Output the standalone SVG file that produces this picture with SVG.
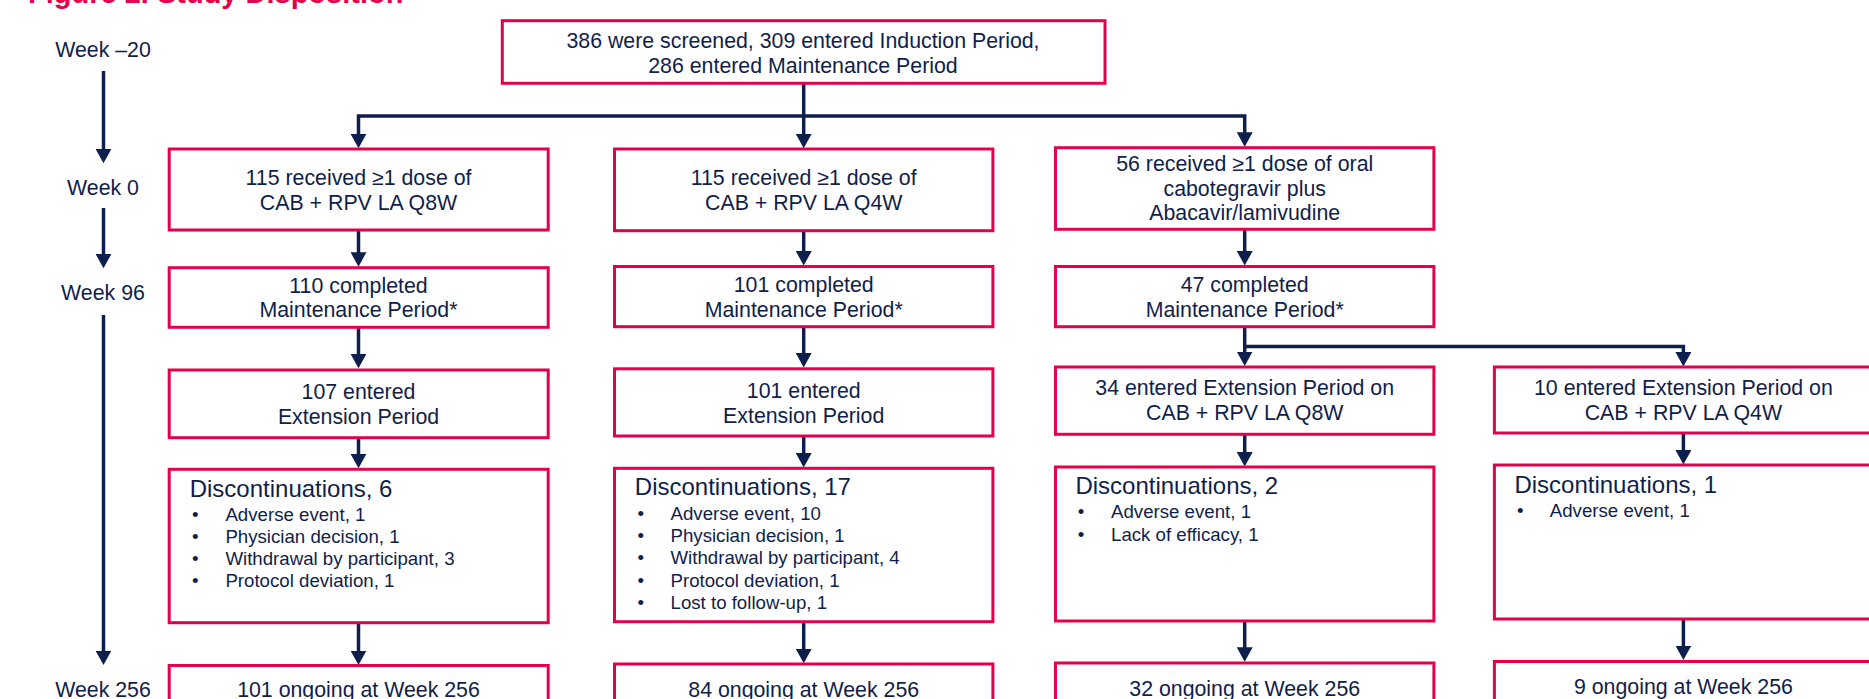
<svg xmlns="http://www.w3.org/2000/svg" width="1869" height="699" viewBox="0 0 1869 699">
<defs>
<style>
.box{fill:#fff;stroke:#E4004B;stroke-width:3}
.t{font-family:"Liberation Sans",Arial,sans-serif;font-size:21.33px;fill:#101E4A;text-anchor:middle}
.h{font-family:"Liberation Sans",Arial,sans-serif;font-size:24px;fill:#101E4A}
.b{font-family:"Liberation Sans",Arial,sans-serif;font-size:18.67px;fill:#101E4A}
.c{fill:none;stroke:#0D1F4D;stroke-width:3.5;marker-end:url(#ah)}
.title{font-family:"Liberation Sans",Arial,sans-serif;font-size:29px;font-weight:bold;fill:#E4004B}
</style>
<marker id="ah" markerUnits="userSpaceOnUse" markerWidth="15" markerHeight="16" refX="8.5" refY="8" orient="auto">
<path d="M0,0 L14.5,8 L0,16 z" fill="#0D1F4D"/>
</marker>
</defs>
<rect width="1869" height="699" fill="#fff"/>
<text class="title" x="28" y="3">Figure 2. Study Disposition</text>

<g id="timeline">
<text class="t" x="103" y="57.3">Week –20</text>
<text class="t" x="103" y="195">Week 0</text>
<text class="t" x="103" y="300">Week 96</text>
<text class="t" x="103" y="697">Week 256</text>
</g>

<g id="connectors">
<path class="c" d="M103.5,71 V157.3"/>
<path class="c" d="M103.5,208 V262.3"/>
<path class="c" d="M103.5,315 V659"/>
<path class="c" d="M803.7,83 V142.3"/>
<path class="c" d="M803.7,116 H358.5 V142.3"/>
<path class="c" d="M803.7,116 H1244.7 V140.7"/>
<path class="c" d="M358.5,230 V260.7"/>
<path class="c" d="M358.5,327.3 V362.3"/>
<path class="c" d="M358.5,437.7 V462.3"/>
<path class="c" d="M358.5,622.7 V659"/>
<path class="c" d="M803.7,230.7 V259.5"/>
<path class="c" d="M803.7,326.7 V361.5"/>
<path class="c" d="M803.7,436 V461.5"/>
<path class="c" d="M803.7,621.7 V657.3"/>
<path class="c" d="M1244.7,229.3 V259.5"/>
<path class="c" d="M1244.7,326.7 V360"/>
<path class="c" d="M1244.7,346.5 H1683.4 V360.5"/>
<path class="c" d="M1244.7,434.3 V460.5"/>
<path class="c" d="M1244.7,621 V655.7"/>
<path class="c" d="M1683.4,433 V458.5"/>
<path class="c" d="M1683.4,619 V654"/>
</g>

<g id="n-screened">
<rect class="box" x="502.3" y="20.7" width="602.7" height="62.6"/>
<text class="t" x="803" y="48.3">386 were screened, 309 entered Induction Period,</text>
<text class="t" x="803" y="72.7">286 entered Maintenance Period</text>
</g>

<g id="n-q8w-dose">
<rect class="box" x="169.2" y="149" width="379" height="81"/>
<text class="t" x="358.5" y="185">115 received ≥1 dose of</text>
<text class="t" x="358.5" y="209.5">CAB + RPV LA Q8W</text>
</g>
<g id="n-q4w-dose">
<rect class="box" x="614.5" y="149" width="378.4" height="81.7"/>
<text class="t" x="803.7" y="185">115 received ≥1 dose of</text>
<text class="t" x="803.7" y="209.5">CAB + RPV LA Q4W</text>
</g>
<g id="n-oral-dose">
<rect class="box" x="1055.5" y="147.7" width="378.4" height="81.6"/>
<text class="t" x="1244.7" y="171">56 received ≥1 dose of oral</text>
<text class="t" x="1244.7" y="195.5">cabotegravir plus</text>
<text class="t" x="1244.7" y="220">Abacavir/lamivudine</text>
</g>

<g id="n-q8w-completed">
<rect class="box" x="169.2" y="267.7" width="379" height="59.6"/>
<text class="t" x="358.5" y="292.5">110 completed</text>
<text class="t" x="358.5" y="317">Maintenance Period*</text>
</g>
<g id="n-q4w-completed">
<rect class="box" x="614.5" y="266.5" width="378.4" height="60.2"/>
<text class="t" x="803.7" y="291.5">101 completed</text>
<text class="t" x="803.7" y="316.5">Maintenance Period*</text>
</g>
<g id="n-oral-completed">
<rect class="box" x="1055.5" y="266.5" width="378.4" height="60.2"/>
<text class="t" x="1244.7" y="291.5">47 completed</text>
<text class="t" x="1244.7" y="316.5">Maintenance Period*</text>
</g>

<g id="n-q8w-ext">
<rect class="box" x="169.2" y="370" width="379" height="67.7"/>
<text class="t" x="358.5" y="399">107 entered</text>
<text class="t" x="358.5" y="424">Extension Period</text>
</g>
<g id="n-q4w-ext">
<rect class="box" x="614.5" y="368.8" width="378.4" height="67.2"/>
<text class="t" x="803.7" y="398.3">101 entered</text>
<text class="t" x="803.7" y="422.7">Extension Period</text>
</g>
<g id="n-oral-ext-q8w">
<rect class="box" x="1055.5" y="367" width="378.4" height="67.3"/>
<text class="t" x="1244.7" y="395">34 entered Extension Period on</text>
<text class="t" x="1244.7" y="420">CAB + RPV LA Q8W</text>
</g>
<g id="n-oral-ext-q4w">
<rect class="box" x="1494.4" y="367" width="379" height="66"/>
<text class="t" x="1683.4" y="395">10 entered Extension Period on</text>
<text class="t" x="1683.4" y="420">CAB + RPV LA Q4W</text>
</g>

<g id="n-q8w-disc">
<rect class="box" x="169.2" y="469.3" width="379" height="153.4"/>
<text class="h" x="189.7" y="496.7">Discontinuations, 6</text>
<text class="b" x="192" y="521">•</text><text class="b" x="225.4" y="521">Adverse event, 1</text>
<text class="b" x="192" y="543">•</text><text class="b" x="225.4" y="543">Physician decision, 1</text>
<text class="b" x="192" y="565">•</text><text class="b" x="225.4" y="565">Withdrawal by participant, 3</text>
<text class="b" x="192" y="587.3">•</text><text class="b" x="225.4" y="587.3">Protocol deviation, 1</text>
</g>
<g id="n-q4w-disc">
<rect class="box" x="614.5" y="468.3" width="378.4" height="153.4"/>
<text class="h" x="634.8" y="495">Discontinuations, 17</text>
<text class="b" x="637.5" y="520">•</text><text class="b" x="670.5" y="520">Adverse event, 10</text>
<text class="b" x="637.5" y="542">•</text><text class="b" x="670.5" y="542">Physician decision, 1</text>
<text class="b" x="637.5" y="564">•</text><text class="b" x="670.5" y="564">Withdrawal by participant, 4</text>
<text class="b" x="637.5" y="586.5">•</text><text class="b" x="670.5" y="586.5">Protocol deviation, 1</text>
<text class="b" x="637.5" y="608.5">•</text><text class="b" x="670.5" y="608.5">Lost to follow-up, 1</text>
</g>
<g id="n-oral-q8w-disc">
<rect class="box" x="1055.5" y="467" width="378.4" height="154"/>
<text class="h" x="1075.4" y="494">Discontinuations, 2</text>
<text class="b" x="1077.7" y="518.3">•</text><text class="b" x="1111" y="518.3">Adverse event, 1</text>
<text class="b" x="1077.7" y="540.7">•</text><text class="b" x="1111" y="540.7">Lack of efficacy, 1</text>
</g>
<g id="n-oral-q4w-disc">
<rect class="box" x="1494.4" y="465" width="379" height="154"/>
<text class="h" x="1514.4" y="493.3">Discontinuations, 1</text>
<text class="b" x="1517" y="516.7">•</text><text class="b" x="1549.8" y="516.7">Adverse event, 1</text>
</g>

<g id="n-q8w-ongoing">
<rect class="box" x="169.2" y="665.5" width="379" height="60"/>
<text class="t" x="358.5" y="697">101 ongoing at Week 256</text>
</g>
<g id="n-q4w-ongoing">
<rect class="box" x="614.5" y="664" width="378.4" height="60"/>
<text class="t" x="803.7" y="697">84 ongoing at Week 256</text>
</g>
<g id="n-oral-q8w-ongoing">
<rect class="box" x="1055.5" y="663" width="378.4" height="60"/>
<text class="t" x="1244.7" y="695.5">32 ongoing at Week 256</text>
</g>
<g id="n-oral-q4w-ongoing">
<rect class="box" x="1494.4" y="661.5" width="379" height="60"/>
<text class="t" x="1683.4" y="694">9 ongoing at Week 256</text>
</g>
</svg>
